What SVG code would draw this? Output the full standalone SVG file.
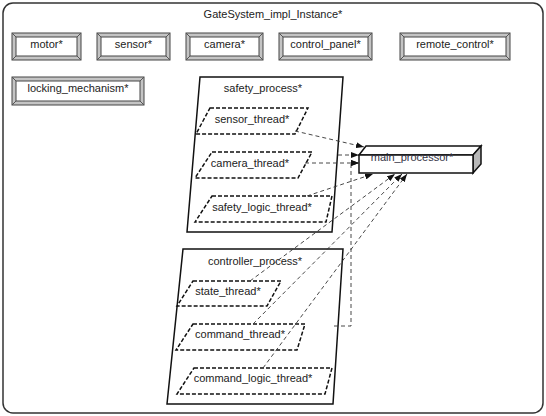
<svg xmlns="http://www.w3.org/2000/svg" width="546" height="416" viewBox="0 0 546 416">
<defs>
<marker id="arr" viewBox="0 0 8 6" refX="8" refY="3" markerWidth="8" markerHeight="6" markerUnits="userSpaceOnUse" orient="auto">
<path d="M0,0 L8,3 L0,6 Z" fill="#111"/>
</marker>
<style>
text{font-family:"Liberation Sans",Arial,sans-serif;font-size:11px;fill:#222;text-anchor:middle;dominant-baseline:central}
.frame{fill:#fff;stroke:#333;stroke-width:1.5}
.dev-o{fill:#c4c4c4;stroke:#444;stroke-width:1}
.dev-i{fill:#fff;stroke:#444;stroke-width:1}
.bev{stroke:#555;stroke-width:1}
.proc{fill:#fff;stroke:#111;stroke-width:1.5}
.thr{fill:#fff;stroke:#111;stroke-width:1.5;stroke-dasharray:4,2}
.conn{fill:none;stroke:#333;stroke-width:0.9;stroke-dasharray:4,3;marker-end:url(#arr)}
.cpu{fill:#fff;stroke:#111;stroke-width:1.5}
.cpuside{fill:#b8b8b8;stroke:#111;stroke-width:1.5}
</style>
</defs>
<rect class="frame" x="3" y="3" width="540" height="410" rx="10"/>
<text x="273" y="14">GateSystem_impl_Instance*</text>

<g id="motor">
<rect class="dev-o" x="12" y="33" width="69" height="27"/><rect class="dev-i" x="16" y="37" width="61" height="19"/>
<path class="bev" d="M12,33 L16,37 M81,33 L77,37 M12,60 L16,56 M81,60 L77,56"/>
<text x="46.5" y="44">motor*</text>
</g>
<g id="sensor">
<rect class="dev-o" x="97" y="33" width="73" height="27"/><rect class="dev-i" x="101" y="37" width="65" height="19"/>
<path class="bev" d="M97,33 L101,37 M170,33 L166,37 M97,60 L101,56 M170,60 L166,56"/>
<text x="133.5" y="44">sensor*</text>
</g>
<g id="camera">
<rect class="dev-o" x="186" y="33" width="77" height="27"/><rect class="dev-i" x="190" y="37" width="69" height="19"/>
<path class="bev" d="M186,33 L190,37 M263,33 L259,37 M186,60 L190,56 M263,60 L259,56"/>
<text x="224.5" y="44">camera*</text>
</g>
<g id="control_panel">
<rect class="dev-o" x="279" y="33" width="93" height="27"/><rect class="dev-i" x="283" y="37" width="85" height="19"/>
<path class="bev" d="M279,33 L283,37 M372,33 L368,37 M279,60 L283,56 M372,60 L368,56"/>
<text x="325.5" y="44">control_panel*</text>
</g>
<g id="remote_control">
<rect class="dev-o" x="400" y="33" width="110" height="27"/><rect class="dev-i" x="404" y="37" width="102" height="19"/>
<path class="bev" d="M400,33 L404,37 M510,33 L506,37 M400,60 L404,56 M510,60 L506,56"/>
<text x="455" y="44">remote_control*</text>
</g>
<g id="locking_mechanism">
<rect class="dev-o" x="12" y="77" width="132" height="28"/><rect class="dev-i" x="16" y="81" width="124" height="20"/>
<path class="bev" d="M12,77 L16,81 M144,77 L140,81 M12,105 L16,101 M144,105 L140,101"/>
<text x="78" y="88">locking_mechanism*</text>
</g>

<g id="safety_process">
<path class="proc" d="M200,77 L343,77 L332,232 L187,232 Z"/>
<text x="263" y="88">safety_process*</text>
</g>
<g id="sensor_thread">
<path class="thr" d="M210,108 L308,108 L295,134 L196,134 Z"/>
<text x="252" y="119">sensor_thread*</text>
</g>
<g id="camera_thread">
<path class="thr" d="M212,152 L312,152 L298,178 L195,178 Z"/>
<text x="250" y="163">camera_thread*</text>
</g>
<g id="safety_logic_thread">
<path class="thr" d="M212,196 L332,196 L326,222 L195,222 Z"/>
<text x="262" y="207">safety_logic_thread*</text>
</g>

<g id="controller_process">
<path class="proc" d="M183,249 L343,249 L333,404 L167,404 Z"/>
<text x="255" y="261">controller_process*</text>
</g>
<g id="state_thread">
<path class="thr" d="M193,281 L281,281 L267,306 L177,306 Z"/>
<text x="228" y="291">state_thread*</text>
</g>
<g id="command_thread">
<path class="thr" d="M193,324 L305,324 L297,350 L176,350 Z"/>
<text x="240" y="334">command_thread*</text>
</g>
<g id="command_logic_thread">
<path class="thr" d="M194,368 L332,368 L325,394 L177,394 Z"/>
<text x="253" y="378">command_logic_thread*</text>
</g>

<g id="main_processor">
<path class="cpu" d="M359,155 L366,146 L481,146 L473,155 Z"/>
<path class="cpuside" d="M473,155 L481,146 L481,164 L473,173 Z"/>
<rect class="cpu" x="359" y="155" width="114" height="18"/>
<text x="412" y="157" style="fill:#334">main_processor*</text>
</g>

<g id="connectors">
<path class="conn" d="M295,131 L364,147"/>
<path class="conn" d="M338,155 L359,155"/>
<path class="conn" d="M305,163 L359,163"/>
<path class="conn" d="M334,326 L351,326 L351,163 L359,163"/>
<path class="conn" d="M307,196 L373,174"/>
<path class="conn" d="M250,281 L395,174"/>
<path class="conn" d="M253,324 L402,174"/>
<path class="conn" d="M263,368 L407,174"/>
</g>
</svg>
